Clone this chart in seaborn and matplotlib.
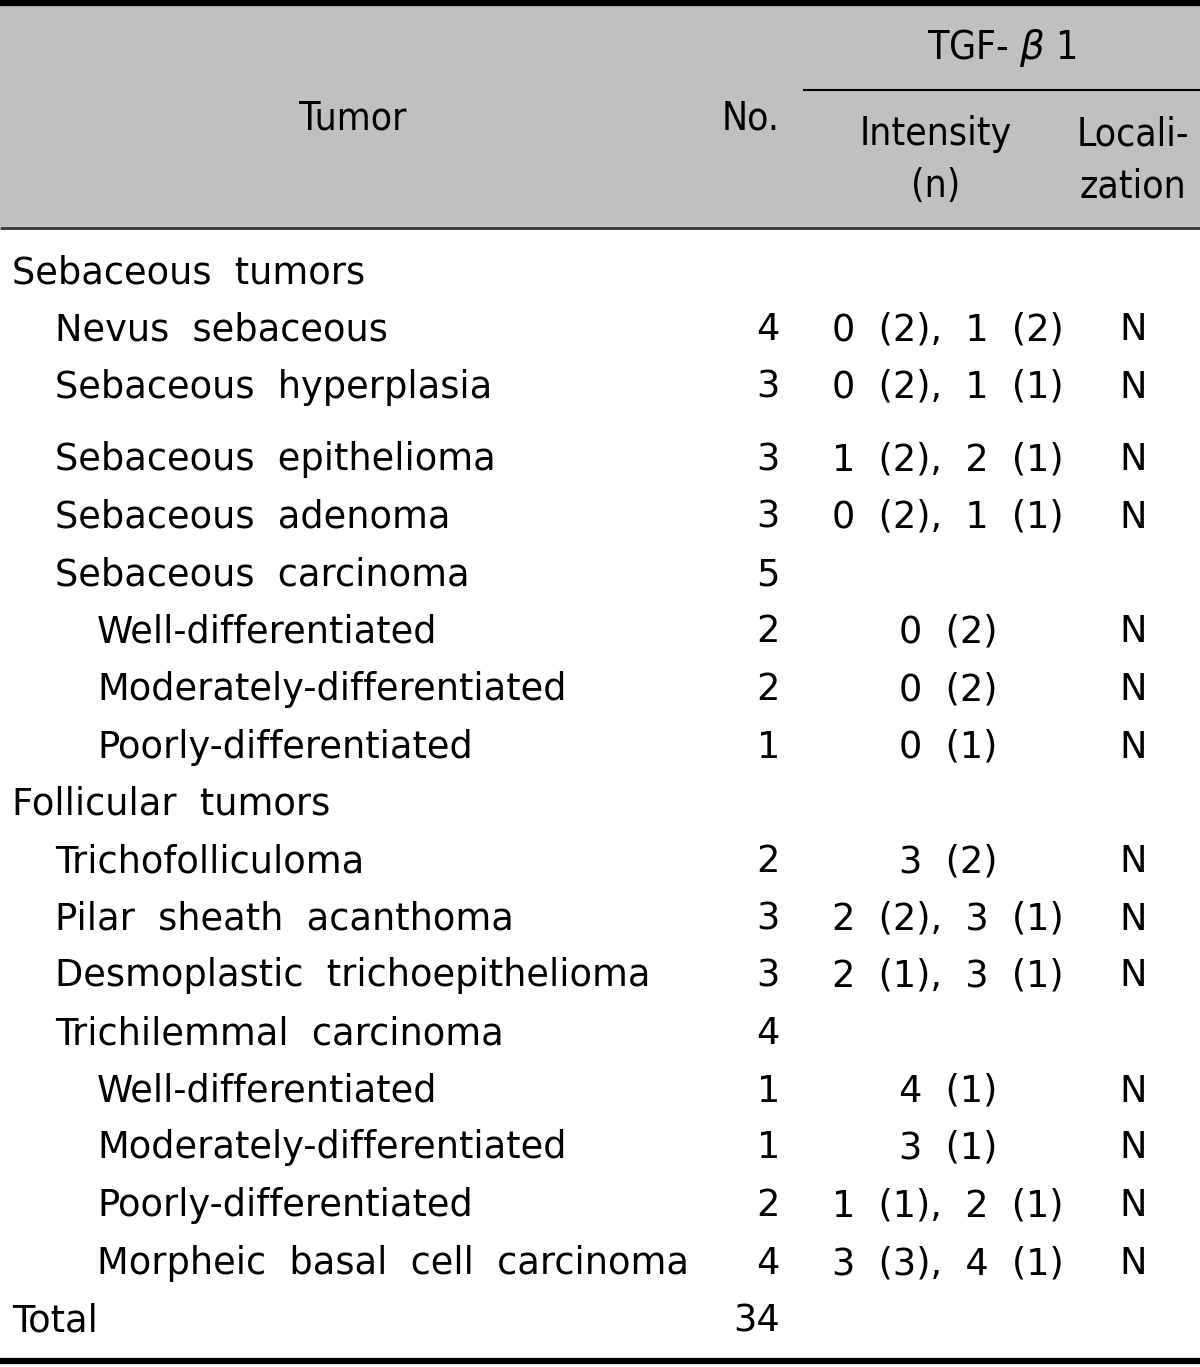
import matplotlib.pyplot as plt
import seaborn as sns

sns.set_theme(style="white")
plt.rcParams['font.family'] = ['DejaVu Sans']
plt.rcParams['text.color'] = 'black'

# table contents
tumors = ['Sebaceous  tumors', 'Nevus  sebaceous', 'Sebaceous  hyperplasia', 'Sebaceous  epithelioma',
          'Sebaceous  adenoma', 'Sebaceous  carcinoma', 'Well-differentiated',
          'Moderately-differentiated', 'Poorly-differentiated', 'Follicular  tumors',
          'Trichofolliculoma', 'Pilar  sheath  acanthoma', 'Desmoplastic  trichoepithelioma',
          'Trichilemmal  carcinoma', 'Well-differentiated', 'Moderately-differentiated',
          'Poorly-differentiated', 'Morpheic  basal  cell  carcinoma', 'Total']
levels = [0, 1, 1, 1, 1, 1, 2, 2, 2, 0, 1, 1, 1, 1, 2, 2, 2, 2, 0]
numbers = ['', '4', '3', '3', '3', '5', '2', '2', '1', '', '2', '3', '3', '4', '1', '1', '2', '4', '34']
intensity = ['', '0  (2),  1  (2)', '0  (2),  1  (1)', '1  (2),  2  (1)', '0  (2),  1  (1)', '',
             '0  (2)', '0  (2)', '0  (1)', '', '3  (2)', '2  (2),  3  (1)', '2  (1),  3  (1)', '',
             '4  (1)', '3  (1)', '1  (1),  2  (1)', '3  (3),  4  (1)', '']
localization = ['', 'N', 'N', 'N', 'N', '', 'N', 'N', 'N', '', 'N', 'N', 'N', '', 'N', 'N', 'N', 'N', '']
row_y = [273, 330, 387, 460, 517, 575, 632, 690, 747, 804, 862, 919, 976, 1034, 1091, 1148, 1206, 1264, 1321]

W, H = 1200, 1367
fig = plt.figure(figsize=(W / 100, H / 100), dpi=100)
ax = fig.add_axes([0, 0, 1, 1])
ax.set_xlim(0, W)
ax.set_ylim(H, 0)
ax.axis('off')

fs = 26.5
hfs = 28
hkw = dict(ha='center', va='center', fontsize=hfs, family=['DejaVu Sans'], fontstretch='condensed')

# header band
ax.fill_between([0, W], 6, 227, color='#c0c0c0', lw=0)
ax.plot([0, W], [3, 3], color='black', lw=4.5, solid_capstyle='butt')
ax.plot([0, W], [228, 228], color='#333333', lw=2, solid_capstyle='butt')
ax.plot([803, W], [90, 90], color='black', lw=1.5, solid_capstyle='butt')
ax.plot([0, W], [1361, 1361], color='black', lw=4.5, solid_capstyle='butt')

ax.text(353, 118, 'Tumor', **hkw)
ax.text(751, 118, 'No.', **hkw)
ax.text(1002, 48, 'TGF- $\\beta$ 1', **hkw)
ax.text(936, 134, 'Intensity', **hkw)
ax.text(936, 186, '(n)', **hkw)
ax.text(1133, 134, 'Locali-', **hkw)
ax.text(1133, 186, 'zation', **hkw)

indent = [12, 55, 97]
for t, lv, n, it, lo, y in zip(tumors, levels, numbers, intensity, localization, row_y):
    ax.text(indent[lv], y, t, ha='left', va='center', fontsize=fs)
    ax.text(780, y, n, ha='right', va='center', fontsize=fs)
    ax.text(948, y, it, ha='center', va='center', fontsize=fs)
    ax.text(1133, y, lo, ha='center', va='center', fontsize=fs)

fig.savefig('out.png', dpi=100)
